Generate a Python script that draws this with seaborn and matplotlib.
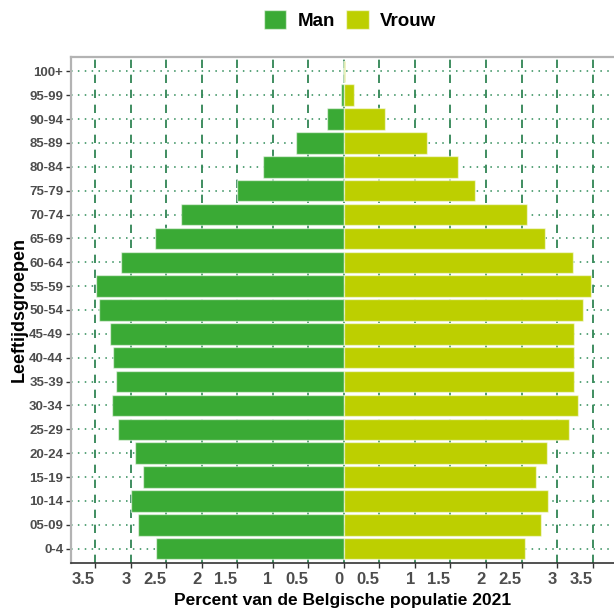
import pandas as pd
import numpy as np
import matplotlib
matplotlib.use("Agg")
import matplotlib.pyplot as plt
import seaborn as sns

plt.rcParams['font.family'] = ['Liberation Sans', 'DejaVu Sans']

# Age groups (top to bottom) and share of the Belgian population 2021 (%)
leeftijd = ['100+', '95-99', '90-94', '85-89', '80-84', '75-79', '70-74',
            '65-69', '60-64', '55-59', '50-54', '45-49', '40-44', '35-39',
            '30-34', '25-29', '20-24', '15-19', '10-14', '05-09', '0-4']
man = [0.01, 0.04, 0.23, 0.67, 1.13, 1.50, 2.29, 2.65, 3.14, 3.49, 3.44,
       3.29, 3.25, 3.21, 3.26, 3.18, 2.94, 2.82, 3.00, 2.90, 2.64]
vrouw = [0.01, 0.15, 0.58, 1.17, 1.61, 1.85, 2.57, 2.83, 3.23, 3.48, 3.37,
         3.24, 3.24, 3.24, 3.29, 3.17, 2.86, 2.71, 2.87, 2.78, 2.55]
x_ticks = np.arange(-3.5, 3.51, 0.5)

# Long format, men on the negative side
df = pd.DataFrame({
    'Leeftijd': leeftijd * 2,
    'Percent': [-v for v in man] + vrouw,
    'Geslacht': ['Man'] * len(man) + ['Vrouw'] * len(vrouw),
})

fig = plt.figure(figsize=(6.14, 6.10), dpi=100)
ax = fig.add_axes([71 / 614, 47 / 610, 1 - 71 / 614, (563 - 57) / 610])

ax.set_axisbelow(True)
sns.barplot(
    data=df, x='Percent', y='Leeftijd', hue='Geslacht',
    order=leeftijd, hue_order=['Man', 'Vrouw'], dodge=False,
    palette={'Man': '#3AAA35', 'Vrouw': '#BDCF00'}, saturation=1,
    width=0.9, errorbar=None, orient='h',
    edgecolor=(1, 1, 1, 0.55), linewidth=1, ax=ax
)

handles, labels = ax.get_legend_handles_labels()
ax.get_legend().remove()

ax.set_xlim(-3.837, 3.80)
ax.set_ylim(20.6, -0.6)
ax.set_xticks(x_ticks)
ax.set_xticklabels(['0' if v == 0 else f"{abs(v):g}" for v in x_ticks],
                   ha='right', fontweight='bold', color='#4d4d4d', fontsize=12)
for lab in ax.get_yticklabels():
    lab.set_fontweight('bold')
    lab.set_color('#4d4d4d')
    lab.set_fontsize(9.5)

ax.xaxis.grid(True, linestyle=(0, (5, 4)), color='#1f7a45', linewidth=1.2)
ax.yaxis.grid(True, linestyle=(0, (1, 3.5)), color='#2e8b57', linewidth=1.1)

for side in ['top', 'left']:
    ax.spines[side].set_color('#b3b3b3')
    ax.spines[side].set_linewidth(1.6)
ax.spines['right'].set_visible(False)
ax.spines['bottom'].set_color('#333333')
ax.spines['bottom'].set_linewidth(1.2)
ax.tick_params(axis='both', color='#333333', length=3.5, width=1)
ax.tick_params(axis='x', pad=3)
ax.tick_params(axis='y', pad=2)

ax.set_xlabel('Percent van de Belgische populatie 2021', fontsize=12.5,
              fontweight='bold', color='black', labelpad=4)
ax.set_ylabel('Leeftijdsgroepen', fontsize=13, fontweight='bold',
              color='black', labelpad=1)

fig.legend(handles, labels, loc='center', bbox_to_anchor=(350 / 614, 1 - 20 / 610),
           ncol=2, frameon=False, prop={'weight': 'bold', 'size': 13.5},
           handlelength=1.2, handleheight=1.2, handletextpad=0.6,
           columnspacing=0.6)

fig.savefig('out.png', dpi=100)
